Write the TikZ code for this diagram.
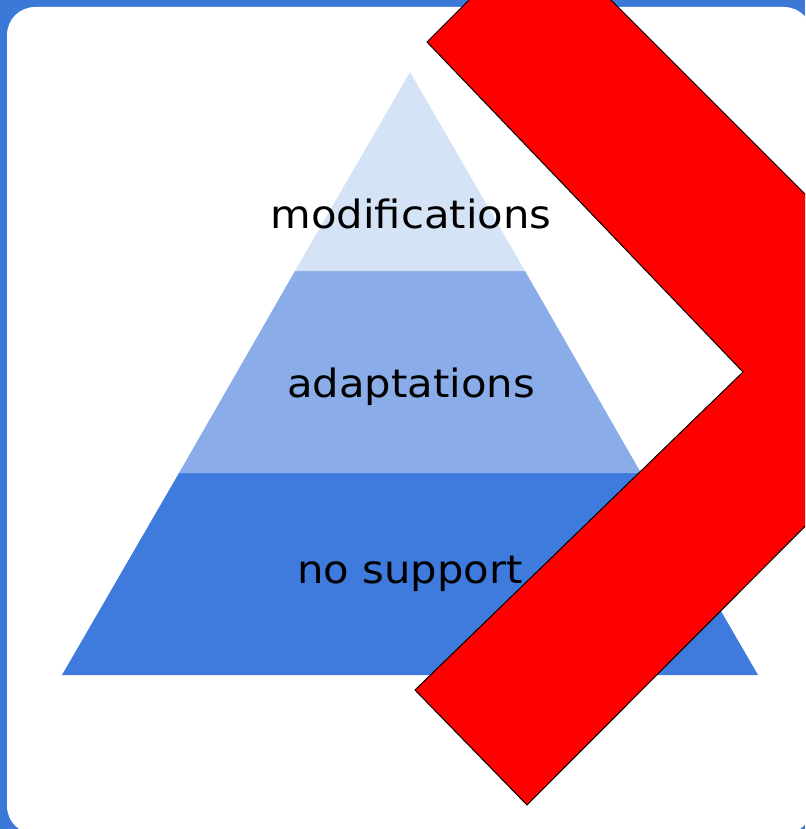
\documentclass[tikz,border=0pt]{standalone}
\usepackage{fontspec}
\setmainfont{DejaVu Sans}
\definecolor{frameblue}{HTML}{3C78D8}
\definecolor{bandlow}{HTML}{3F7BDC}
\definecolor{bandmid}{HTML}{8AADE9}
\definecolor{bandtop}{HTML}{D5E3F6}
\definecolor{chevred}{HTML}{FF0000}
\begin{document}
\begin{tikzpicture}[x=1pt,y=-1pt,
  bandlabel/.style={font=\fontsize{39}{42}\selectfont, text=black, inner sep=0pt, anchor=base, xscale=1.07}]
\useasboundingbox (0,0) rectangle (805,829);
\clip (0,0) rectangle (805,829);
\fill[frameblue] (0,0) rectangle (805,829);
\fill[white, rounded corners=28pt] (7,7) rectangle (812,834);
% pyramid bands
\fill[bandlow] (62,675) -- (179,473) -- (641,473) -- (758,675) -- cycle;
\fill[bandmid] (179,473) -- (295,271) -- (525,271) -- (641,473) -- cycle;
\fill[bandtop] (295,271) -- (410,72) -- (525,271) -- cycle;
\node[bandlabel] (modif) at (411,228) {modifications};
\node[bandlabel] (adapt) at (411,397) {adaptations};
\node[bandlabel] (nosup) at (410,583) {no support};
% red chevron
\draw[fill=chevred, draw=black, line width=1pt]
  (427,42) -- (743,372) -- (415,690) -- (527,805) -- (971,360) -- (540,-71) -- cycle;
\end{tikzpicture}
\end{document}
